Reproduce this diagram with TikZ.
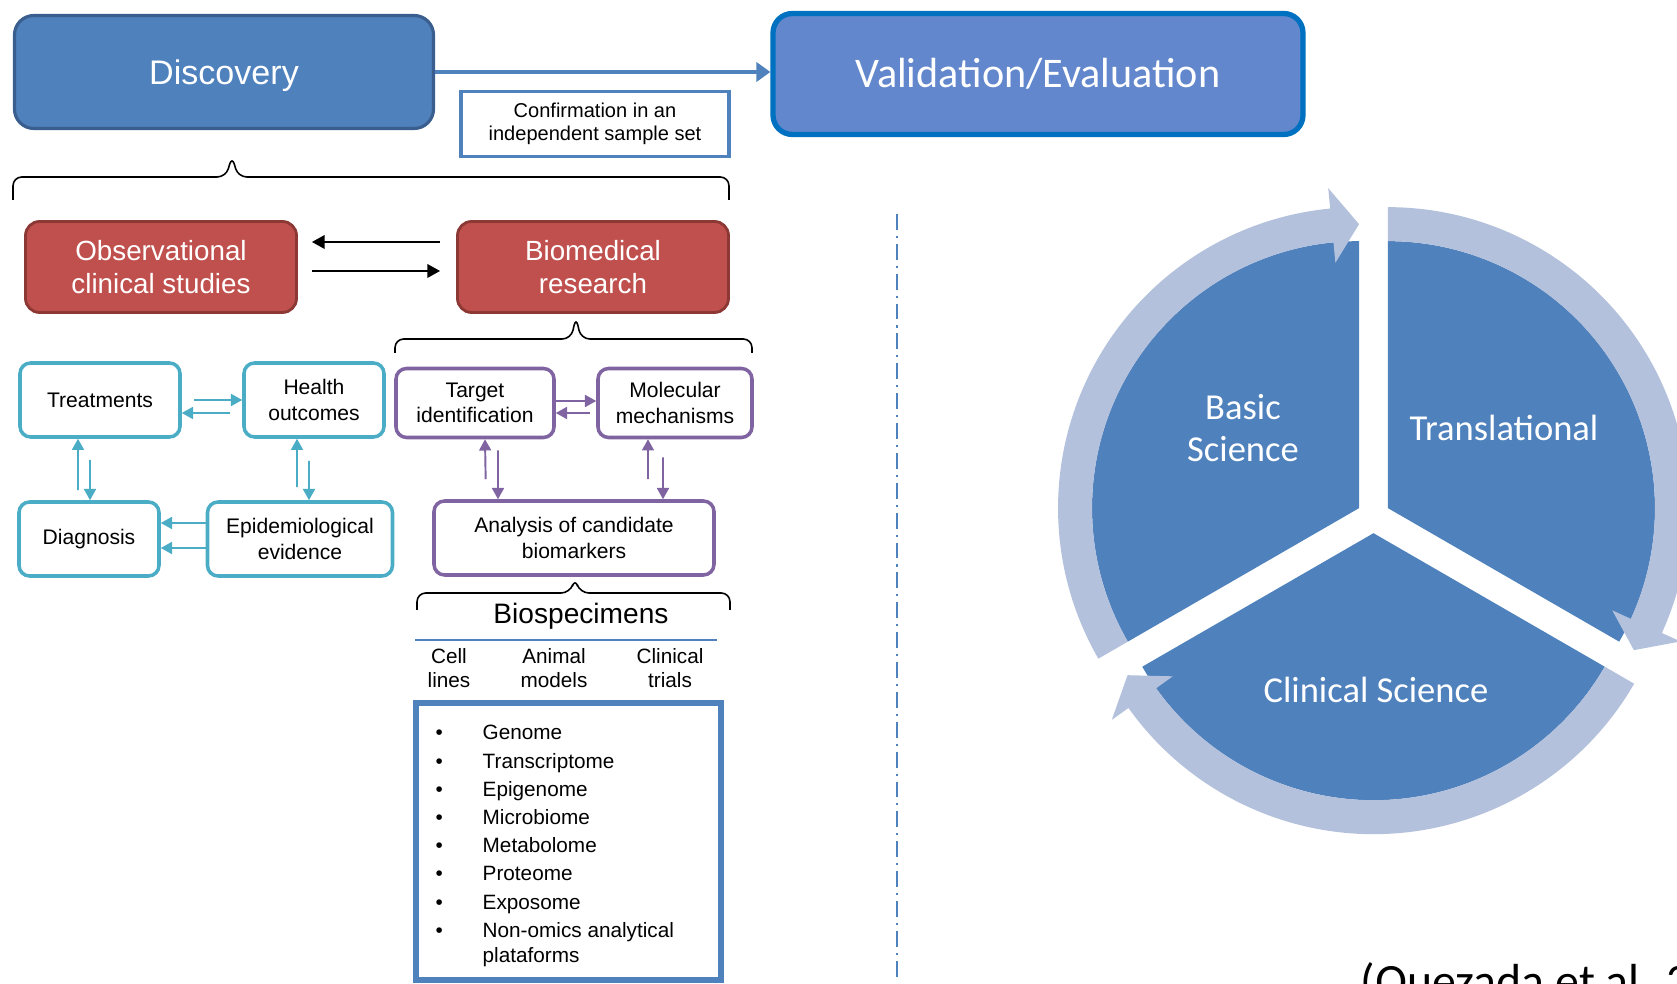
\documentclass[tikz,border=0pt]{standalone}
\usepackage{fontspec}
\setmainfont{Liberation Sans}
\newfontfamily\calibri{Carlito}
\usetikzlibrary{arrows.meta}

\definecolor{discblue}{RGB}{79,129,189}
\definecolor{discedge}{RGB}{58,94,142}
\definecolor{valblue}{RGB}{98,135,204}
\definecolor{valedge}{RGB}{0,112,192}
\definecolor{obsred}{RGB}{192,80,77}
\definecolor{obsedge}{RGB}{140,56,53}
\definecolor{clincyan}{RGB}{75,172,198}
\definecolor{biopurple}{RGB}{128,100,162}
\definecolor{ringblue}{RGB}{179,193,220}

\begin{document}
\begin{tikzpicture}[x=0.1mm,y=-0.1mm,
stage/.style={rectangle,rounded corners=5.5pt,draw=discedge,fill=discblue,line width=0.9pt,text=white,font=\fontsize{9.7}{11}\selectfont},
study/.style={rectangle,rounded corners=4pt,draw=obsedge,fill=obsred,line width=0.8pt,text=white,align=center,minimum width=27.1mm,minimum height=9.1mm,font=\fontsize{7.9}{9.6}\selectfont},
clin/.style={rectangle,rounded corners=3pt,draw=clincyan,line width=1pt,align=center,font=\fontsize{6}{7.3}\selectfont},
bio/.style={clin,draw=biopurple},
cyanarr/.style={clincyan,line width=0.55pt,-{Triangle[length=3.2pt,width=3.4pt]}},
purparr/.style={cyanarr,biopurple},
blackarr/.style={line width=0.6pt,-{Triangle[length=3.6pt,width=3.8pt]}},
brk/.style={line width=0.45pt,rounded corners=2.5pt},
omic/.style={anchor=base west,inner sep=0pt,font=\fontsize{5.9}{7}\selectfont},
slice/.style={fill=discblue},
ring/.style={fill=ringblue},
cyc/.style={text=white,align=center,font=\calibri\fontsize{10.4}{11.7}\selectfont}]
\useasboundingbox (0,0) rectangle (1677,984);
\clip (0,0) rectangle (1677,984);
%stages
	\node[stage,text depth=0pt,minimum width=41.9mm,minimum height=11.3mm] (disc) at (224,72) {Discovery};
	\node[stage,draw=valedge,fill=valblue,line width=1.5pt,minimum width=53mm,minimum height=12.1mm,font=\calibri\fontsize{12}{14}\selectfont] (valid) at (1038,74) {Validation/Evaluation};
	\node[draw=discblue,line width=1.1pt,minimum width=26.8mm,minimum height=6.2mm,align=center,font=\fontsize{5.7}{6.5}\selectfont] (confirm) at (595,124) {Confirmation in an\\independent sample set};
	\draw[discblue,line width=0.9pt,-{Triangle[length=4pt,width=5.5pt]}] (disc.east) -- (disc.east -| valid.west);
%brackets
	\draw[brk] (13,200) |- (226,177) -- (232,156) -- (238,177) -| (729,200);
	\draw[brk] (395,353) |- (571,339) -- (576,317) -- (581,339) -| (752,353);
	\draw[brk] (417,610) |- (570,593) -- (575,578) -- (580,593) -| (730,610);
%studies
	\node[study] (obs) at (161,267) {Observational\\clinical studies};
	\node[study] (biomed) at (593,267) {Biomedical\\research};
	\draw[blackarr,shorten <=1.6mm,shorten >=1.4mm] ([yshift=2.5mm]biomed.west) -- ([yshift=2.5mm]obs.east);
	\draw[blackarr,shorten <=1.4mm,shorten >=1.6mm] ([yshift=-0.4mm]obs.east) -- ([yshift=-0.4mm]biomed.west);
%clinical side
	\node[clin,minimum width=16mm,minimum height=7.4mm] (treat) at (100,400) {Treatments};
	\node[clin,minimum width=14mm,minimum height=7.4mm] (health) at (314,400) {Health\\outcomes};
	\node[clin,minimum width=14mm,minimum height=7.4mm] (diag) at (89,539) {Diagnosis};
	\node[clin,minimum width=18.5mm,minimum height=7.4mm] (epid) at (300,539) {Epidemiological\\evidence};
	\draw[cyanarr,shorten <=1.2mm] (treat.east) -- (health.west);
	\draw[cyanarr,shorten <=1.2mm] ([yshift=-1.3mm]health.west) -- ([yshift=-1.3mm]treat.east);
	\draw[cyanarr,shorten <=1mm] ([xshift=-1.1mm]diag.north) -- ([xshift=-2.2mm]treat.south);
	\draw[cyanarr,shorten <=2.1mm] ([xshift=-1mm]treat.south) -- ([xshift=0.1mm]diag.north);
	\draw[cyanarr,shorten <=1.3mm] ([xshift=-0.3mm]epid.north) -- ([xshift=-1.7mm]health.south);
	\draw[cyanarr,shorten <=2.2mm] ([xshift=-0.5mm]health.south) -- ([xshift=0.9mm]epid.north);
	\draw[cyanarr] ([yshift=1.6mm]epid.west) -- ([yshift=1.6mm]diag.east);
	\draw[cyanarr] ([yshift=-0.9mm]epid.west) -- ([yshift=-0.9mm]diag.east);
%biomedical side
	\node[bio,minimum width=15.8mm,minimum height=6.9mm] (target) at (475,403) {Target\\identification};
	\node[bio,minimum width=15.4mm,minimum height=6.9mm] (molec) at (675,403) {Molecular\\mechanisms};
	\node[bio,minimum width=28mm,minimum height=7.4mm] (analysis) at (574,538) {Analysis of candidate\\biomarkers};
	\draw[purparr] ([yshift=0.2mm]target.east) -- ([yshift=0.2mm]molec.west);
	\draw[purparr,shorten <=0.6mm] ([yshift=-1mm]molec.west) -- ([yshift=-1mm]target.east);
	\draw[purparr,shorten <=2mm] ([xshift=-8.8mm]analysis.north) -- ([xshift=1mm]target.south);
	\draw[purparr,shorten <=1.1mm] ([xshift=2.3mm]target.south) -- ([xshift=-7.6mm]analysis.north);
	\draw[purparr,shorten <=2mm] ([xshift=7.4mm]analysis.north) -- ([xshift=-2.7mm]molec.south);
	\draw[purparr,shorten <=1.8mm] ([xshift=-1.2mm]molec.south) -- ([xshift=8.9mm]analysis.north);
%biospecimens
	\node[font=\fontsize{8}{9}\selectfont] (biospec) at (581,616) {Biospecimens};
	\draw[discblue,line width=0.6pt] (415,640) -- (717,640);
\foreach \x / \txt / \nm in {449/{Cell\\lines}/cell,554/{Animal\\models}/animal,670/{Clinical\\trials}/trials}
{
	\node[align=center,font=\fontsize{5.9}{6.8}\selectfont] (\nm) at (\x,668) {\txt};
}
	\node[draw=discblue,line width=1.6pt,minimum width=30.5mm,minimum height=27.7mm] (omics) at (568.5,841.5) {};
\foreach \item [count=\i from 0] in {Genome,Transcriptome,Epigenome,Microbiome,Metabolome,Proteome,Exposome,Non-omics analytical}
{
	\node[omic] (item\i) at (482,{740+28.2*\i}) {\item};
	\node[omic] at (435,{740+28.2*\i}) {\textbullet};
}
	\node[omic] (item8) at (482,963) {plataforms};
%divider
	\draw[discblue,line width=0.45pt,dash pattern=on 4.5pt off 1.7pt on 0.6pt off 1.7pt] (897,214) -- (897,979);
%cycle
\begin{scope}[shift={(1373.5,516.5)},yscale=-1]
\foreach \a in {90,-30,210}
{
	\begin{scope}[shift={(\a+60:16.7)}]
	\fill[slice] (0,0) -- (\a:267) arc[start angle=\a,end angle=\a+120,radius=267] -- cycle;
	\fill[ring] (\a+120:267) arc[start angle=\a+120,end angle=\a+5.5,radius=267] -- (\a+5.5:246.5) -- (\a:284) -- (\a+5.5:321.5) -- (\a+5.5:301) arc[start angle=\a+5.5,end angle=\a+120,radius=301] -- cycle;
	\end{scope}
}
\end{scope}
	\node[cyc] (basic) at (1243,428) {Basic\\Science};
	\node[cyc] (transl) at (1504,428) {Translational};
	\node[cyc] (clinsci) at (1376,690) {Clinical Science};
	\node[anchor=base west,inner sep=0pt,font=\calibri\fontsize{13.6}{16}\selectfont] (cite) at (1360,998) {(Quezada et al. 2};
\end{tikzpicture}
\end{document}
